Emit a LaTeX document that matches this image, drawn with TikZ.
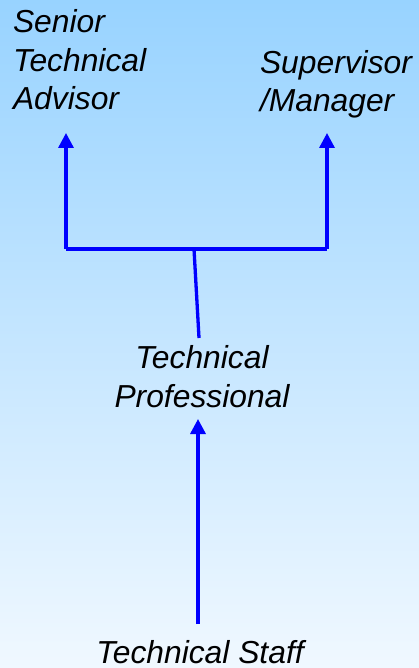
\documentclass[tikz,border=0pt]{standalone}
\usepackage{fontspec}
\setmainfont{Liberation Sans}
\usetikzlibrary{arrows.meta}
\definecolor{bgtop}{RGB}{152,211,255}
\definecolor{bgbot}{RGB}{240,248,255}
\definecolor{linkblue}{RGB}{0,0,255}
\begin{document}
\begin{tikzpicture}[x=1pt,y=1pt,
  lbl/.style={inner sep=0pt,outer sep=0pt,font=\fontsize{31.8}{38.6}\selectfont\itshape},
  conn/.style={draw=linkblue,line width=3.3pt},
  arr/.style={conn,-{Triangle[width=15pt,length=15pt]}}]
\useasboundingbox (0,0) rectangle (419,-668);
\fill[top color=bgtop,bottom color=bgbot] (0,0) rectangle (419,-668);
% labels (base anchor = baseline of the last line)
\node[lbl,align=left,anchor=base west] (sta) at (13,-110) {Senior\\Technical\\Advisor};
\node[lbl,align=left,anchor=base west] (sup) at (260,-112) {Supervisor\\/Manager};
\node[lbl,align=center,anchor=base] (tp) at (202,-407) {Technical\\Professional};
\node[lbl,anchor=base] (ts) at (200,-663) {Technical Staff};
% connector points
\coordinate (la) at (66,-133);
\coordinate (ra) at (327,-133);
\coordinate (lc) at (66,-249);
\coordinate (rc) at (327,-249);
\coordinate (jt) at (194,-249);
\coordinate (jb) at (199,-338);
\coordinate (ba) at (198,-419);
\coordinate (bb) at (198,-624);
% connectors
\draw[conn] (jb) -- (jt);
\draw[arr] (lc) -- (la);
\draw[arr] (rc) -- (ra);
\draw[conn] (lc) -- (rc);
\draw[arr] (bb) -- (ba);
\end{tikzpicture}
\end{document}
